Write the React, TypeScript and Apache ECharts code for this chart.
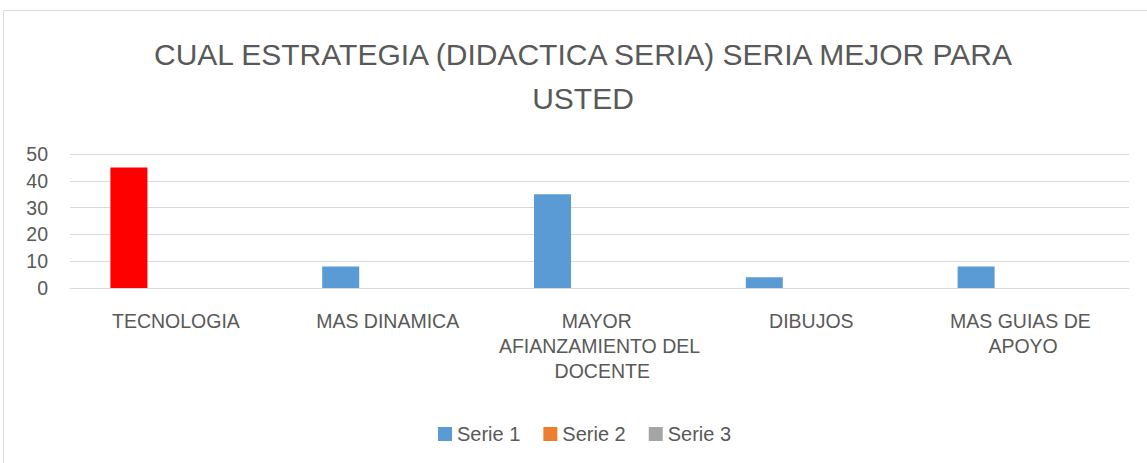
import React, { useEffect, useRef } from "react";
import * as echarts from "echarts";

const categories = ["TECNOLOGIA", "MAS DINAMICA", "MAYOR AFIANZAMIENTO DEL DOCENTE", "DIBUJOS", "MAS GUIAS DE APOYO"];
const serie1 = [45, 8, 35, 4, 8];
const serie2 = [0, 0, 0, 0, 0];
const serie3 = [0, 0, 0, 0, 0];
const seriesNames = ["Serie 1", "Serie 2", "Serie 3"];
const highlightIndex = 0;

const FONT = "Liberation Sans";
const TEXT = "#595959";

export default function App() {
  const ref = useRef<HTMLDivElement>(null);
  useEffect(() => {
    document.body.style.margin = "0";
    const chart = echarts.init(ref.current!, null, { renderer: "svg" });
    chart.setOption({
      animation: false,
      backgroundColor: "#ffffff",
      textStyle: { fontFamily: FONT },
      graphic: [
        {
          type: "rect",
          shape: { x: 3.5, y: 10.5, width: 1300, height: 600 },
          style: { fill: "none", stroke: "#d9d9d9", lineWidth: 1 },
          silent: true,
        },
      ],
      title: {
        text: "CUAL ESTRATEGIA (DIDACTICA SERIA) SERIA MEJOR PARA\nUSTED",
        left: 578,
        textAlign: "center",
        top: 27,
        textStyle: { fontFamily: FONT, fontSize: 30, fontWeight: "normal", color: TEXT, lineHeight: 44 },
      },
      legend: {
        data: seriesNames,
        left: 433,
        top: 419,
        itemWidth: 14,
        itemHeight: 14,
        itemGap: 23,
        icon: "rect",
        textStyle: { fontFamily: FONT, fontSize: 20, color: TEXT },
      },
      grid: { left: 70, right: 18, top: 154, bottom: 175, containLabel: false },
      xAxis: {
        type: "category",
        data: categories,
        axisLine: { show: true, lineStyle: { color: "#d9d9d9" } },
        axisTick: { show: false },
        axisLabel: {
          interval: 0,
          margin: 20,
          fontFamily: FONT,
          fontSize: 19.5,
          color: TEXT,
          lineHeight: 25,
          width: 205,
          overflow: "break",
        },
      },
      yAxis: {
        type: "value",
        min: 0,
        max: 50,
        interval: 10,
        axisLine: { show: false },
        axisTick: { show: false },
        splitLine: { lineStyle: { color: "#d9d9d9", width: 1 } },
        axisLabel: { margin: 22, fontFamily: FONT, fontSize: 19.5, color: TEXT },
      },
      series: [
        {
          name: seriesNames[0],
          type: "bar",
          barWidth: 37,
          barGap: "27%",
          itemStyle: { color: "#5b9bd5" },
          data: serie1.map((v, i) => (i === highlightIndex ? { value: v, itemStyle: { color: "#ff0000" } } : v)),
        },
        { name: seriesNames[1], type: "bar", barWidth: 37, barGap: "27%", itemStyle: { color: "#ed7d31" }, data: serie2 },
        { name: seriesNames[2], type: "bar", barWidth: 37, barGap: "27%", itemStyle: { color: "#a5a5a5" }, data: serie3 },
      ],
    });
    return () => chart.dispose();
  }, []);
  return <div ref={ref} style={{ width: 1147, height: 463 }} />;
}
